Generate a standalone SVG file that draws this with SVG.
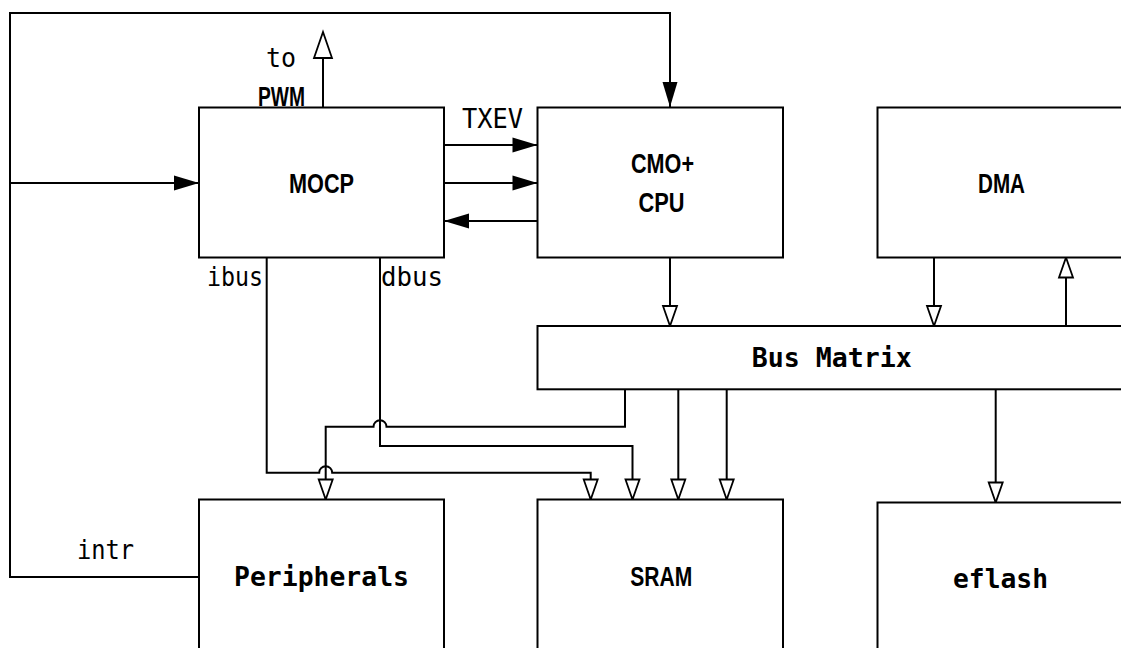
<svg xmlns="http://www.w3.org/2000/svg" width="1121" height="648" viewBox="0 0 1121 648">
<style>
.box{fill:#fff;stroke:#000;stroke-width:2}
.ln{fill:none;stroke:#000;stroke-width:2}
.b{font-family:"Liberation Sans",Arial,sans-serif;font-weight:bold;font-size:27px;text-anchor:middle}
.m{font-family:"DejaVu Sans Mono","Liberation Mono",monospace;font-size:27px;text-anchor:middle}
.mb{font-family:"DejaVu Sans Mono","Liberation Mono",monospace;font-weight:bold;font-size:27px;text-anchor:middle}
</style>
<defs>
<marker id="fa" markerUnits="userSpaceOnUse" markerWidth="26" markerHeight="16" refX="25" refY="7.5" orient="auto" overflow="visible"><path d="M0,0 L25,7.5 L0,15 z" fill="#000"/></marker>
<marker id="ha" markerUnits="userSpaceOnUse" markerWidth="22" markerHeight="16" refX="20" refY="7" orient="auto" overflow="visible"><path d="M0,0 L20,7 L0,14 z" fill="#fff" stroke="#000" stroke-width="1.8"/></marker>
<marker id="hb" markerUnits="userSpaceOnUse" markerWidth="28" markerHeight="20" refX="26" refY="9" orient="auto" overflow="visible"><path d="M0,0 L26,9 L0,18 z" fill="#fff" stroke="#000" stroke-width="1.8"/></marker>
</defs>
<g id="connectors">
<path class="ln" d="M199,577 L10,577 L10,13 L670,13 L670,107" marker-end="url(#fa)"/>
<path class="ln" d="M10,183 L199,183" marker-end="url(#fa)"/>
<path class="ln" d="M323,107 L323,32" marker-end="url(#hb)"/>
<path class="ln" d="M444,145 L537.5,145" marker-end="url(#fa)"/>
<path class="ln" d="M444,183 L537.5,183" marker-end="url(#fa)"/>
<path class="ln" d="M537.5,221 L444,221" marker-end="url(#fa)"/>
<path class="ln" d="M670,257.5 L670,326" marker-end="url(#ha)"/>
<path class="ln" d="M934,257.5 L934,326" marker-end="url(#ha)"/>
<path class="ln" d="M1066,326 L1066,257.5" marker-end="url(#ha)"/>
<path class="ln" d="M678.3,389.3 L678.3,499.5" marker-end="url(#ha)"/>
<path class="ln" d="M726.7,389.3 L726.7,499.5" marker-end="url(#ha)"/>
<path class="ln" d="M995.7,389.3 L995.7,502.5" marker-end="url(#ha)"/>
<path class="ln" d="M266.7,257.5 L266.7,472.7 L319.2,472.7 A6.5,6.5 0 0 1 332.2,472.7 L590.7,472.7 L590.7,499.5" marker-end="url(#ha)"/>
<path class="ln" d="M380,257.5 L380,446 L632.5,446 L632.5,499.5" marker-end="url(#ha)"/>
<path class="ln" d="M625,389.3 L625,426.7 L386.5,426.7 A6.5,6.5 0 0 0 373.5,426.7 L325.7,426.7 L325.7,499.5" marker-end="url(#ha)"/>
</g>
<g id="labels">
<text class="m" x="281" y="67" textLength="30" lengthAdjust="spacingAndGlyphs">to</text>
<text class="b" x="281.5" y="106" textLength="47" lengthAdjust="spacingAndGlyphs">PWM</text>
<text class="m" x="492.5" y="128" textLength="61" lengthAdjust="spacingAndGlyphs">TXEV</text>
<text class="m" x="235" y="286" textLength="56" lengthAdjust="spacingAndGlyphs">ibus</text>
<text class="m" x="412" y="286" textLength="62" lengthAdjust="spacingAndGlyphs">dbus</text>
<text class="m" x="105.5" y="559" textLength="57" lengthAdjust="spacingAndGlyphs">intr</text>
</g>
<g id="MOCP">
<rect class="box" x="199" y="107.5" width="245" height="150"/>
<text class="b" x="321.5" y="193" textLength="65" lengthAdjust="spacingAndGlyphs">MOCP</text>
</g>
<g id="CPU">
<rect class="box" x="537.5" y="107.5" width="245.5" height="150"/>
<text class="b" x="662.5" y="173" textLength="63" lengthAdjust="spacingAndGlyphs">CMO+</text>
<text class="b" x="661.5" y="212" textLength="46" lengthAdjust="spacingAndGlyphs">CPU</text>
</g>
<g id="DMA">
<rect class="box" x="877.5" y="107.5" width="260" height="150"/>
<text class="b" x="1001.5" y="193" textLength="47" lengthAdjust="spacingAndGlyphs">DMA</text>
</g>
<g id="BusMatrix">
<rect class="box" x="537.5" y="326" width="600" height="63.3"/>
<text class="mb" x="831.7" y="367.3" textLength="160" lengthAdjust="spacingAndGlyphs">Bus Matrix</text>
</g>
<g id="Peripherals">
<rect class="box" x="199" y="499.5" width="245" height="160"/>
<text class="mb" x="321.5" y="586" textLength="175" lengthAdjust="spacingAndGlyphs">Peripherals</text>
</g>
<g id="SRAM">
<rect class="box" x="537.5" y="499.5" width="245.5" height="160"/>
<text class="b" x="661.3" y="586" textLength="62" lengthAdjust="spacingAndGlyphs">SRAM</text>
</g>
<g id="eflash">
<rect class="box" x="877.5" y="502.5" width="260" height="160"/>
<text class="mb" x="1000.5" y="588" textLength="95" lengthAdjust="spacingAndGlyphs">eflash</text>
</g>
</svg>
